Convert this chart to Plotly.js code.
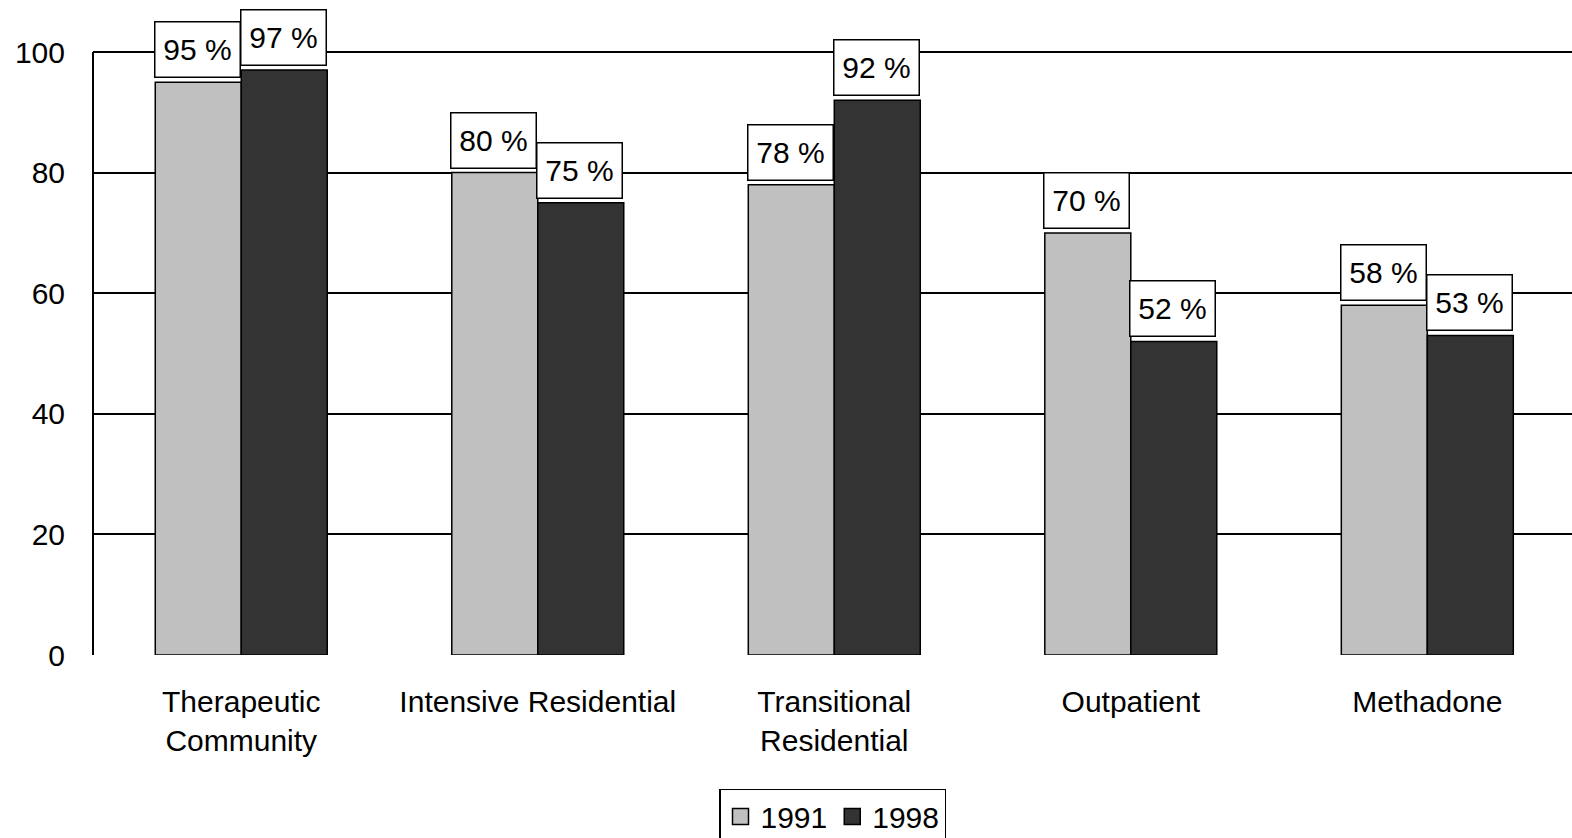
<!DOCTYPE html>
<html>
<head>
<meta charset="utf-8">
<script src="https://cdn.plot.ly/plotly-3.0.1.min.js"></script>
<style>html,body{margin:0;padding:0;background:#fff;overflow:hidden;}</style>
</head>
<body>
<div id="chart" style="width:1572px;height:870px;"></div>
<script>
const categories = ["Therapeutic<br>Community", "Intensive Residential", "Transitional<br>Residential", "Outpatient", "Methadone"];
const values1991 = [95, 80, 78, 70, 58];
const values1998 = [97, 75, 92, 52, 53];
const seriesNames = ["1991", "1998"];
const seriesColors = ["#c0c0c0", "#333333"];
const yTicks = [0, 20, 40, 60, 80, 100];

const FONT = "Arial, 'Liberation Sans', sans-serif";
const idx = categories.map((c, i) => i);

const traces = [];
[values1991, values1998].forEach((vals, s) => {
  traces.push({type: "bar", name: seriesNames[s], x: idx, y: vals, showlegend: false,
    marker: {color: seriesColors[s], line: {color: "#000", width: 1.5}}});
});
// legend-only entries with larger square symbols
seriesNames.forEach((n, s) => {
  traces.push({type: "scatter", mode: "markers", name: n, x: [null], y: [null],
    marker: {symbol: "square", size: 16, color: seriesColors[s], line: {color: "#000", width: 1.5}}});
});

const annotations = [];
[values1991, values1998].forEach((vals, s) => {
  vals.forEach((v, i) => {
    annotations.push({
      x: i, y: v, xref: "x", yref: "y",
      text: v + " %", showarrow: false,
      xanchor: "center", yanchor: "bottom",
      xshift: s === 0 ? -44 : 42, yshift: 4,
      bgcolor: "#fff", bordercolor: "#000", borderwidth: 1.5,
      borderpad: 2, width: 80, height: 50,
      font: {family: FONT, size: 30, color: "#000"}
    });
  });
});

const layout = {
  width: 1572, height: 870,
  margin: {l: 93, r: 0, t: 46, b: 215},
  paper_bgcolor: "#fff", plot_bgcolor: "#fff",
  font: {family: FONT, size: 30, color: "#000"},
  barmode: "group", bargap: 0.42, bargroupgap: 0,
  showlegend: true,
  legend: {orientation: "h", x: 0.5, xanchor: "center", y: -0.22, yanchor: "top",
           bordercolor: "#000", borderwidth: 1.5, bgcolor: "#fff",
           font: {family: FONT, size: 30, color: "#000"}, itemwidth: 30},
  xaxis: {
    type: "linear", range: [-0.5, 4.488],
    tickmode: "array", tickvals: idx, ticktext: categories,
    showgrid: false, zeroline: false, showline: false, ticks: "",
    ticklabelstandoff: 26,
    tickfont: {family: FONT, size: 30, color: "#000"}
  },
  yaxis: {
    range: [0, 101], tickvals: yTicks,
    showgrid: true, gridcolor: "#000", gridwidth: 2,
    zeroline: false, showline: false, ticks: "", ticklabelstandoff: 27,
    tickfont: {family: FONT, size: 30, color: "#000"}
  },
  shapes: [{type: "line", xref: "paper", yref: "y", x0: 0, x1: 0,
            y0: yTicks[0], y1: yTicks[yTicks.length - 1],
            line: {color: "#000", width: 2}, layer: "above"}],
  annotations: annotations
};

Plotly.newPlot("chart", traces, layout, {displayModeBar: false, staticPlot: true});
</script>
</body>
</html>
